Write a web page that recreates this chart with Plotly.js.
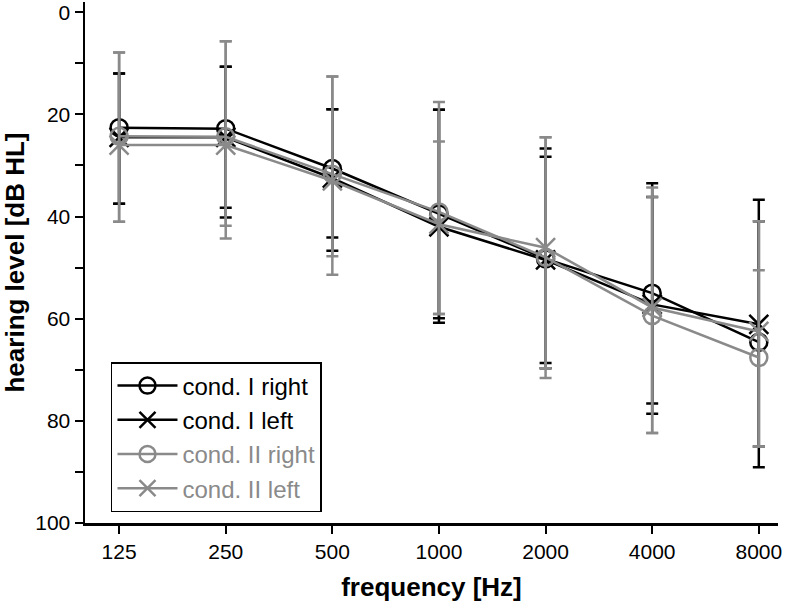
<!DOCTYPE html>
<html>
<head>
<meta charset="utf-8">
<script src="https://cdn.plot.ly/plotly-3.0.1.min.js"></script>
<style>
html,body{margin:0;padding:0;background:#fff;}
#chart{width:786px;height:607px;}
</style>
</head>
<body>
<div id="chart"></div>
<script>
// categories (frequency, Hz)
const frequencies = ['125', '250', '500', '1000', '2000', '4000', '8000'];

// mean hearing level [dB HL]
const condIRight  = [22.6, 22.8, 30.6, 39.5, 48.3, 55.0, 64.6];
const condILeft   = [24.5, 24.5, 32.5, 42.0, 48.5, 57.2, 61.1];
const condIIRight = [24.3, 24.4, 31.7, 39.1, 48.0, 59.4, 67.6];
const condIILeft  = [26.0, 26.0, 33.0, 41.5, 46.1, 57.8, 62.5];

// error bar ends (upper = smaller dB value, lower = larger dB value)
const condIRightUpper  = [12.0, 10.7, 19.0, 19.1, 28.3, 33.5, 40.9];
const condIRightLower  = [37.5, 38.3, 44.1, 59.9, 68.7, 76.6, 89.1];
const condILeftUpper   = [12.0, 10.7, 19.0, 19.1, 26.7, 36.2, 36.7];
const condILeftLower   = [37.5, 40.2, 46.7, 60.8, 69.7, 78.6, 85.0];
const condIIRightUpper = [7.9, 5.7, 12.6, 17.6, 24.5, 36.2, 50.5];
const condIIRightLower = [41.0, 41.8, 47.8, 59.1, 71.6, 82.4, 85.0];
const condIILeftUpper  = [7.9, 5.7, 12.6, 25.3, 24.5, 34.3, 40.9];
const condIILeftLower  = [41.0, 44.3, 51.4, 59.1, 69.7, 82.4, 85.0];

const yTickVals = [0, 20, 40, 60, 80, 100];
const yMinorTickVals = [10, 30, 50, 70, 90];

const BLACK = '#000000';
const GRAY = '#8a8a8a';

function mk(name, y, upper, lower, color, symbol) {
  return {
    type: 'scatter',
    mode: 'lines+markers',
    name: name,
    x: frequencies,
    y: y,
    line: {color: color, width: 2.5},
    marker: {
      symbol: symbol,
      size: symbol === 'circle-open' ? 17 : 19,
      color: color,
      line: {color: color, width: 2.5}
    },
    error_y: {
      type: 'data',
      symmetric: false,
      array: y.map((v, i) => lower[i] - v),
      arrayminus: y.map((v, i) => v - upper[i]),
      color: color,
      thickness: 2.5,
      width: 6
    }
  };
}

const traces = [
  mk('cond. I right', condIRight, condIRightUpper, condIRightLower, BLACK, 'circle-open'),
  mk('cond. I left', condILeft, condILeftUpper, condILeftLower, BLACK, 'x-thin-open'),
  mk('<span style="color:' + GRAY + '">cond. II right</span>', condIIRight, condIIRightUpper, condIIRightLower, GRAY, 'circle-open'),
  mk('<span style="color:' + GRAY + '">cond. II left</span>', condIILeft, condIILeftUpper, condIILeftLower, GRAY, 'x-thin-open')
];

const FAM = '"Liberation Sans", Arial, sans-serif';
const tickFont = {family: FAM, size: 21, color: '#000'};
const titleFont = {family: FAM, size: 26, color: '#000'};

const layout = {
  width: 786,
  height: 607,
  margin: {l: 85, r: 8, t: 2, b: 84, pad: 0},
  paper_bgcolor: '#fff',
  plot_bgcolor: '#fff',
  showlegend: true,
  xaxis: {
    type: 'category',
    range: [-0.32, 6.18],
    showline: true,
    linecolor: '#000',
    linewidth: 2.5,
    showgrid: false,
    zeroline: false,
    ticks: 'outside',
    ticklen: 8,
    tickwidth: 2,
    tickcolor: '#000',
    tickfont: tickFont,
    title: {text: '<b>frequency [Hz]</b>', font: titleFont, standoff: 16}
  },
  yaxis: {
    range: [100, -2],
    showline: true,
    linecolor: '#000',
    linewidth: 2.5,
    showgrid: false,
    zeroline: false,
    tickmode: 'array',
    tickvals: yTickVals,
    ticks: 'outside',
    ticklen: 8,
    tickwidth: 2,
    tickcolor: '#000',
    ticklabeloverflow: 'allow',
    minor: {tickmode: 'array', tickvals: yMinorTickVals, ticks: 'outside', ticklen: 8, tickwidth: 2, tickcolor: '#000'},
    tickfont: tickFont,
    title: {text: '<b>hearing level [dB HL]</b>', font: titleFont, standoff: 12}
  },
  legend: {
    x: 0.0375,
    y: 0.309,
    xanchor: 'left',
    yanchor: 'top',
    bgcolor: '#fff',
    bordercolor: '#000',
    borderwidth: 1.5,
    itemwidth: 60,
    entrywidth: 225,
    entrywidthmode: 'pixels',
    tracegroupgap: 0,
    font: {family: FAM, size: 24, color: '#000'}
  }
};

Plotly.newPlot('chart', traces, layout, {displayModeBar: false, staticPlot: true});
</script>
</body>
</html>
